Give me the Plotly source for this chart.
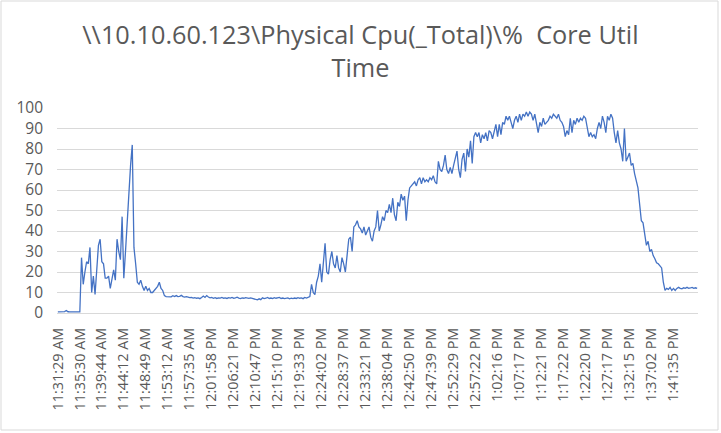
import plotly.graph_objects as go

# Sample-point tick labels (one label every 13 samples)
tick_labels = [
    "11:31:29 AM", "11:35:30 AM", "11:39:44 AM", "11:44:12 AM", "11:48:49 AM",
    "11:53:12 AM", "11:57:35 AM", "12:01:58 PM", "12:06:21 PM", "12:10:47 PM",
    "12:15:10 PM", "12:19:33 PM", "12:24:02 PM", "12:28:37 PM", "12:33:21 PM",
    "12:38:04 PM", "12:42:50 PM", "12:47:39 PM", "12:52:29 PM", "12:57:22 PM",
    "1:02:16 PM", "1:07:17 PM", "1:12:21 PM", "1:17:22 PM", "1:22:20 PM",
    "1:27:17 PM", "1:32:15 PM", "1:37:02 PM", "1:41:35 PM",
]
samples_per_label = 13

# % Core Util Time values, in sample order
idle_start = [0.5, 0.5, 0.6, 0.5, 0.7, 1.2, 0.6, 0.5, 0.5, 0.6, 0.5, 0.5, 0.6, 0.5]
first_burst = [27, 14, 20, 25, 24, 32, 10, 18, 9, 20,
               33, 36, 25, 24, 17, 17, 18, 12, 17, 21,
               16, 36, 30, 26, 47, 17, 30, 45, 58, 72,
               82, 32, 24, 15, 14, 16, 13, 11, 13, 11,
               12, 10, 10, 11, 12, 13, 15, 12, 11, 8.5, 8]
low_plateau = [8, 8.2, 7.9, 8.4, 8, 8.5, 8, 8.1, 8.6, 8, 7.8, 8, 7.7, 7.5, 7.6, 7.3, 7.5, 7.2, 7.4, 7.0, 7.6,
               8.3, 7.6, 8.5, 7.8, 7.4, 7.6, 7.2, 7.5, 7.1, 7.4,
               7.3, 7.6, 7.2, 7.4, 7.1, 7.5, 7.3, 7.6, 7.2, 7.4,
               7.7, 7.3, 7.0, 7.4, 7.2, 7.5, 7.3, 7.1, 7.4, 7.2,
               6.9, 6.6, 6.4, 6.9, 6.5, 7.4, 7.0, 7.2, 7.6, 7.1,
               7.3, 7.0, 7.5, 7.2, 7.4, 7.6, 7.1, 7.3, 7.0, 7.2,
               7.4, 6.9, 7.2, 7.0, 7.3, 7.1, 7.5, 7.2, 7.4, 7.0,
               7.6, 7.3, 7.8]
ramp_up = [8, 14, 10, 9, 15, 18, 24, 15, 25, 34,
           20, 19, 26, 30, 24, 22, 28, 22, 20, 27,
           24, 20, 28, 36, 37, 30, 42, 43, 45, 42,
           41, 39, 42, 38, 40, 42, 37, 35, 40, 42,
           50, 40, 43, 47, 45, 50, 49, 53, 49, 56,
           48, 45, 54, 52, 58, 55, 57, 45, 55, 61,
           62, 63, 64, 62, 65, 66, 63, 66, 64, 65,
           64, 66, 65, 67, 64, 63, 74, 70, 69, 72,
           77, 70, 68, 71, 68, 72, 75, 79, 70, 66,
           75, 78, 69, 80, 76, 84, 73, 86, 88, 86,
           88, 83, 87, 85, 88, 84, 89, 88, 85, 89]
high_plateau = [92, 86, 92, 87, 93, 92, 96, 94, 96, 93,
                90, 94, 96, 93, 97, 94, 97, 96, 98, 96,
                98, 97, 94, 97, 93, 88, 93, 91, 95, 92,
                93, 94, 96, 95, 97, 96, 95, 97, 94, 93,
                91, 86, 89, 87, 95, 88, 94, 92, 95, 93,
                95, 94, 96, 95, 90, 86, 88, 86, 87, 85,
                90, 93, 90, 96, 93, 88, 96, 94, 97, 95]
ramp_down = [88, 83, 89, 83, 80, 74, 90, 74, 76, 78,
             72, 73, 68, 65, 61, 53, 45, 44, 37, 33,
             35, 30, 31, 28, 26.5, 24.5, 24, 23, 22, 15, 11]
idle_end = [12, 11.5, 12.5, 11, 12, 11, 12, 12.5, 12, 11.8, 12.3, 12, 12.5, 12, 12.2, 12.5, 12, 12.3, 12]

cpu = idle_start + first_burst + low_plateau + ramp_up + high_plateau + ramp_down + idle_end
sample_idx = list(range(len(cpu)))
tick_pos = [i * samples_per_label for i in range(len(tick_labels))]

W, H = 721, 433
ml, mr, mt, mb = 57, 23, 108, 120
pw, ph = W - ml - mr, H - mt - mb

fig = go.Figure()
fig.add_trace(go.Scatter(
    x=sample_idx, y=cpu, mode="lines",
    line=dict(color="#4472C4", width=1.3),
    hoverinfo="skip", showlegend=False,
))

txt = "#595959"
fig.update_layout(
    width=W, height=H,
    margin=dict(l=ml, r=mr, t=mt, b=mb, pad=0),
    paper_bgcolor="white", plot_bgcolor="white",
    font=dict(family="Open Sans", color=txt),
    title=dict(
        text="\\\\10.10.60.123\\Physical Cpu(_Total)\\%  Core Util<br>Time",
        x=0.5, xanchor="center", xref="container",
        y=1 - 44 / H, yanchor="top", yref="container",
        font=dict(family="Open Sans", size=25.3, color=txt),
    ),
    xaxis=dict(
        range=[-0.5, len(cpu) - 0.5], automargin=False,
        tickmode="array", tickvals=tick_pos, ticktext=tick_labels,
        tickangle=-90, tickfont=dict(size=14.4, color=txt),
        showgrid=False, zeroline=False,
        showline=True, linecolor="#d9d9d9", linewidth=1,
        ticks="", ticklabelstandoff=8,
    ),
    yaxis=dict(
        range=[0, 100], tickmode="linear", tick0=0, dtick=10, automargin=False,
        tickfont=dict(size=15.5, color=txt),
        showgrid=True, gridcolor="#d9d9d9", gridwidth=1,
        zeroline=False, showline=False, ticks="", ticklabelstandoff=13,
    ),
    shapes=[dict(
        type="rect", xref="paper", yref="paper",
        x0=(1 - ml) / pw, x1=(718 - ml) / pw,
        y0=((H - mb) - 430) / ph, y1=((H - mb) - 1) / ph,
        line=dict(color="#d9d9d9", width=1), fillcolor="rgba(0,0,0,0)", layer="below",
    )],
)

fig.write_html(
    "out.html",
    config={"displayModeBar": False},
    post_script="document.body.style.margin='0';document.body.style.overflow='hidden';",
)
